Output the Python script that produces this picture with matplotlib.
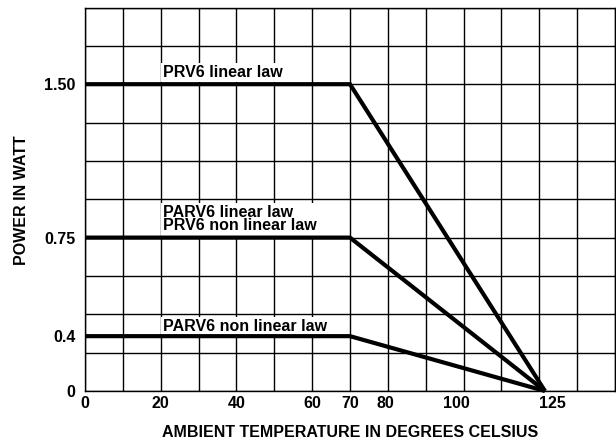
import numpy as np
import matplotlib
matplotlib.use("Agg")
import matplotlib.pyplot as plt
import matplotlib.transforms as mtransforms

# ---- data ----
temps = [0, 70, 125]
prv6_linear = [1.5, 1.5, 0.0]
parv6_linear_prv6_nonlinear = [0.75, 0.75, 0.0]
parv6_nonlinear = [0.4, 0.4, 0.0]

series_labels = ["PRV6 linear law", "PARV6 linear law\nPRV6 non linear law", "PARV6 non linear law"]
series_values = [prv6_linear, parv6_linear_prv6_nonlinear, parv6_nonlinear]

x_tick_values = [0, 20, 40, 60, 70, 80, 100, 125]
x_tick_labels = ["0", "20", "40", "60", "70", "80", "100", "125"]
y_tick_values = [0, 0.4, 0.75, 1.5]
y_tick_labels = ["0", "0.4", "0.75", "1.50"]

# schematic (non-proportional) axis scales as drawn in the original figure
x_knots_val = [0, 70, 125, 140]
x_knots_pos = [0, 70, 121.5, 140]
y_knots_val = [0, 0.4, 0.75, 1.5, 1.875]
y_knots_pos = [0, 1.43, 4, 8, 10]

def fx(v):
    return np.interp(v, x_knots_val, x_knots_pos)
def ix(p):
    return np.interp(p, x_knots_pos, x_knots_val)
def fy(v):
    return np.interp(v, y_knots_val, y_knots_pos)
def iy(p):
    return np.interp(p, y_knots_pos, y_knots_val)

plt.rcParams['font.family'] = ['Liberation Sans', 'DejaVu Sans']
plt.rcParams['font.weight'] = 'bold'

W, H = 616, 443
fig = plt.figure(figsize=(W / 100, H / 100), dpi=100)
ax = fig.add_axes([85 / W, 1 - 391 / H, 530 / W, (391 - 7.5) / H])
ax.set_xscale('function', functions=(fx, ix))
ax.set_yscale('function', functions=(fy, iy))
ax.set_xlim(0, 140)
ax.set_ylim(0, 1.875)
ax.xaxis.remove_overlapping_locs = False
ax.yaxis.remove_overlapping_locs = False

# grid (uniform in drawn position)
ax.set_xticks(ix(np.arange(0, 141, 10)), minor=True)
ax.set_yticks(iy(np.arange(0, 11, 1)), minor=True)
ax.grid(which='minor', color='black', linewidth=1.0)
ax.set_axisbelow(True)
for s in ax.spines.values():
    s.set_linewidth(1.0)
    s.set_color('black')

ax.set_xticks(x_tick_values)
ax.set_xticklabels(x_tick_labels)
ax.set_yticks(y_tick_values)
ax.set_yticklabels(y_tick_labels)
ax.tick_params(which='both', length=0)
ax.tick_params(axis='x', pad=3.5, labelsize=11.5)
ax.tick_params(axis='y', pad=7, labelsize=11.5)

# shift "125" label slightly right like the original
lbl = ax.get_xticklabels()[-1]
lbl.set_transform(lbl.get_transform() + mtransforms.ScaledTranslation(7 / 100, 0, fig.dpi_scale_trans))

for vals in series_values:
    ax.plot(temps, vals, color='black', linewidth=3.0,
            solid_joinstyle='miter', solid_capstyle='butt', clip_on=False, zorder=3)

offsets = [3.2, 3.0, 1.8]
for label, vals, off in zip(series_labels, series_values, offsets):
    ax.annotate(label, xy=(20.5, vals[0]), xytext=(0, off), textcoords='offset points',
                ha='left', va='bottom', fontsize=11.5, fontweight='bold', linespacing=0.9,
                bbox=dict(facecolor='white', edgecolor='none', pad=1.5), zorder=2)

fig.text(350 / W, 1 - 432.5 / H, "AMBIENT TEMPERATURE IN DEGREES CELSIUS",
         ha='center', va='center', fontsize=11.5, fontweight='bold')
fig.text(22 / W, 1 - 200 / H, "POWER IN WATT", rotation=90,
         ha='center', va='center', fontsize=11.5, fontweight='bold')

fig.savefig("out.png", dpi=100)
